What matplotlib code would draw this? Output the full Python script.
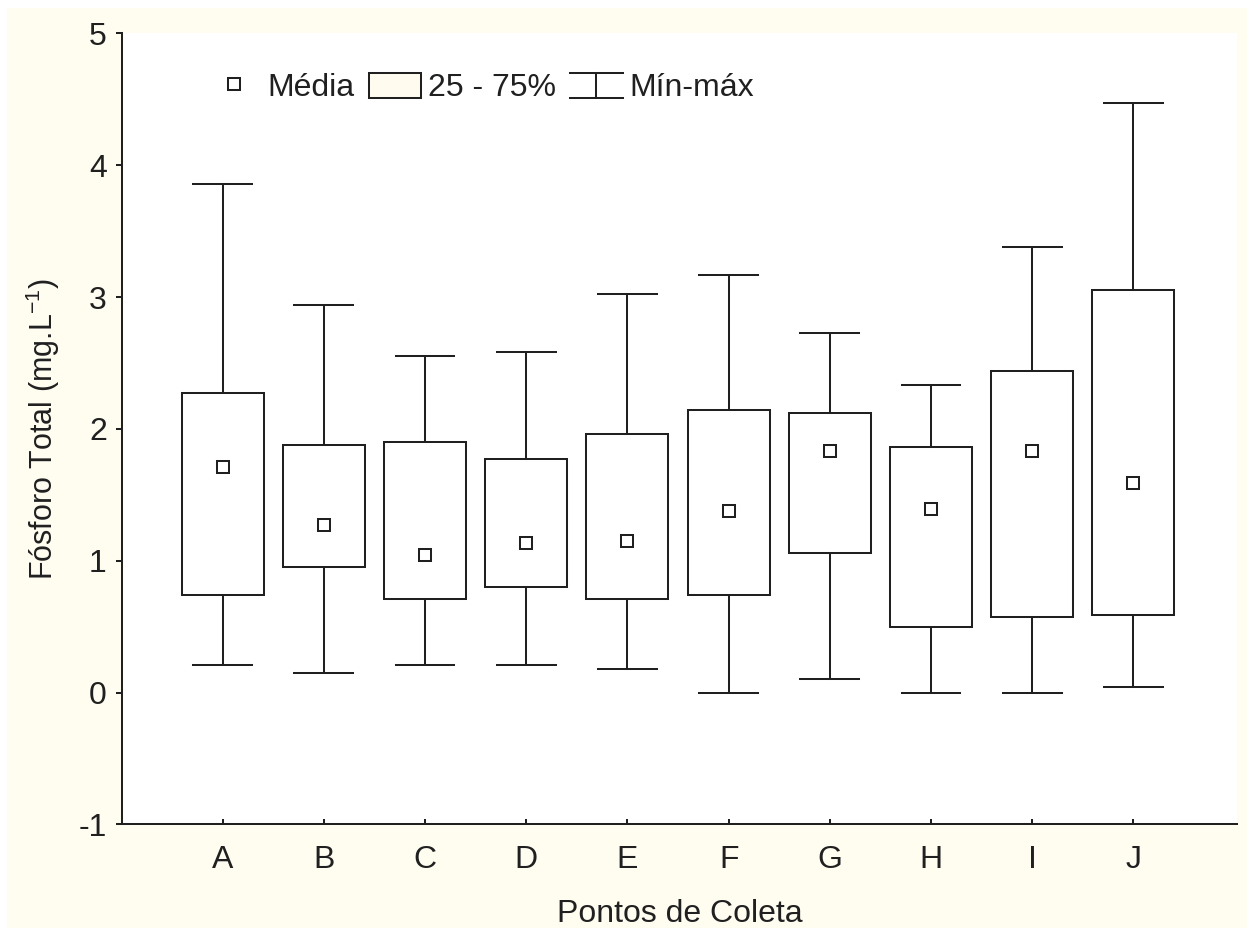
import matplotlib
matplotlib.use('Agg')
import matplotlib.pyplot as plt
from matplotlib.lines import Line2D
from matplotlib.patches import Patch, Rectangle
from matplotlib.legend_handler import HandlerBase

plt.rcParams['font.family'] = ['Liberation Sans', 'DejaVu Sans']
plt.rcParams['mathtext.fontset'] = 'custom'
plt.rcParams['mathtext.rm'] = 'Liberation Sans'
plt.rcParams['mathtext.it'] = 'Liberation Sans'
plt.rcParams['axes.unicode_minus'] = False

# Data
pontos = ['A', 'B', 'C', 'D', 'E', 'F', 'G', 'H', 'I', 'J']
minimo = [0.21, 0.15, 0.21, 0.21, 0.18, 0.00, 0.105, 0.00, 0.00, 0.045]
q1 = [0.74, 0.955, 0.71, 0.80, 0.71, 0.74, 1.06, 0.50, 0.575, 0.59]
media = [1.71, 1.27, 1.04, 1.135, 1.15, 1.38, 1.83, 1.39, 1.83, 1.59]
q3 = [2.27, 1.88, 1.90, 1.775, 1.96, 2.14, 2.12, 1.86, 2.44, 3.05]
maximo = [3.86, 2.94, 2.55, 2.58, 3.02, 3.17, 2.73, 2.335, 3.38, 4.47]

ink = '#202020'
cream = '#FFFCF0'
lw = 1.45
fs = 23

fig = plt.figure(figsize=(12.47, 9.31), dpi=100, facecolor='white')
fig.add_artist(Rectangle((7 / 1247, 3 / 931), 1 - 7 / 1247, 1 - 11 / 931,
                         transform=fig.transFigure, facecolor=cream,
                         edgecolor='none', zorder=-1))
ax = fig.add_axes([0.0982, 0.1144, 0.8935, 0.8498])
ax.set_facecolor('white')

stats = []
for i in range(len(pontos)):
    stats.append({'whislo': minimo[i], 'q1': q1[i], 'med': q1[i],
                  'q3': q3[i], 'whishi': maximo[i], 'mean': media[i]})

ax.bxp(stats, positions=range(len(pontos)), widths=0.81, capwidths=0.58,
       showmeans=True, showfliers=False, patch_artist=True,
       boxprops=dict(facecolor='white', edgecolor=ink, linewidth=lw),
       whiskerprops=dict(color=ink, linewidth=lw),
       capprops=dict(color=ink, linewidth=lw),
       medianprops=dict(visible=False),
       meanprops=dict(marker='s', markersize=8.2, markerfacecolor='none',
                      markeredgecolor=ink, markeredgewidth=lw))

ax.set_xlim(-0.99, 10.02)
ax.set_ylim(-1, 5)
ax.set_yticks(range(-1, 6))
ax.set_xticks(range(len(pontos)))
ax.set_xticklabels(pontos)

for side in ['top', 'right']:
    ax.spines[side].set_visible(False)
for side in ['left', 'bottom']:
    ax.spines[side].set_linewidth(lw)
    ax.spines[side].set_color(ink)

ax.tick_params(axis='y', direction='out', length=4.3, width=lw, color=ink,
               labelsize=fs, pad=7, labelcolor=ink)
ax.tick_params(axis='x', direction='in', length=3.6, width=lw, color=ink,
               labelsize=fs, pad=15, labelcolor=ink)

ax.set_xlabel('Pontos de Coleta', fontsize=fs, color=ink, labelpad=17)
ax.set_ylabel('Fósforo Total (mg.L$^{-1}$)', fontsize=22, color=ink, labelpad=12)


class IBeamHandler(HandlerBase):
    def create_artists(self, legend, orig_handle, xdescent, ydescent,
                       width, height, fontsize, trans):
        x0 = -xdescent
        x1 = x0 + width
        xc = (x0 + x1) / 2
        y0 = -ydescent
        y1 = y0 + height
        arts = [Line2D([x0, x1], [y1, y1]), Line2D([x0, x1], [y0, y0]),
                Line2D([xc, xc], [y0, y1])]
        for a in arts:
            a.set_color(ink)
            a.set_linewidth(lw)
            a.set_transform(trans)
        return arts


h_media = Line2D([], [], marker='s', linestyle='none', markersize=8.2,
                 markerfacecolor='none', markeredgecolor=ink, markeredgewidth=lw)
h_box = Patch(facecolor='#FFFBEE', edgecolor=ink, linewidth=lw)
h_minmax = object()

ax.legend([h_media, h_box, h_minmax], ['Média', '25 - 75%', 'Mín-máx'],
          handler_map={object: IBeamHandler()},
          loc='center left', bbox_to_anchor=(0.0767, 0.931), ncol=3,
          frameon=False, fontsize=fs, borderpad=0, borderaxespad=0,
          handlelength=1.65, handleheight=0.85, handletextpad=0.2,
          columnspacing=0.45, numpoints=1, labelcolor=ink)

fig.savefig('out.png', dpi=100, facecolor=fig.get_facecolor())
